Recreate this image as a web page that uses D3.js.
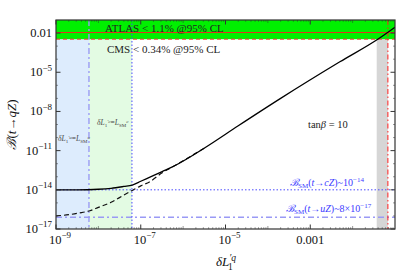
<!DOCTYPE html>
<html>
<head>
<meta charset="utf-8">
<script src="https://cdn.jsdelivr.net/npm/d3@7"></script>
<style>
  body { margin: 0; background: #fff; }
  svg text { font-family: "Liberation Serif", "Times New Roman", "DejaVu Serif", serif; }
</style>
</head>
<body>
<div id="chart"></div>
<script>
// curves (delta L vs branching ratio)
const solidX = [1e-9, 3.2e-9, 1e-8, 2e-8, 4e-8, 6.3e-8, 1e-7, 1.6e-7, 3.2e-7, 6.3e-7, 3.2e-6, 2e-5, 2e-4, 5e-3, 4e-2, 0.1];
const solidB = [1e-14, 1e-14, 1.1e-14, 1.3e-14, 1.8e-14, 2.3e-14, 4.5e-14, 9e-14, 2.5e-13, 7e-13, 1.6e-11, 8e-10, 1e-7, 6.3e-5, 3.5e-3, 2.8e-2];
const dashX = [1e-9, 2e-9, 4e-9, 6.3e-9, 1e-8, 2e-8, 4e-8, 6.3e-8, 1e-7, 1.6e-7, 3.2e-7, 6.3e-7, 3.2e-6];
const dashB = [1e-16, 1.25e-16, 1.8e-16, 2.5e-16, 4.5e-16, 1.1e-15, 4e-15, 9e-15, 2e-14, 4e-14, 2e-13, 7e-13, 1.6e-11];

// limits and regions
const atlasLimit = 0.011;
const cmsLimit = 0.0034;
const smCZ = 1e-14;
const smUZ = 8e-17;
const uRegion = [1e-9, 6e-9];
const cRegion = [6e-9, 6.2e-8];
const grayRegion = [3.7e-2, 6.8e-2];

const xTickVals = [1e-9, 1e-7, 1e-5, 1e-3];
const xTickLabels = [["10", "\u22129"], ["10", "\u22127"], ["10", "\u22125"], ["0.001", null]];
const yTickVals = [1e-17, 1e-14, 1e-11, 1e-8, 1e-5, 1e-2];
const yTickLabels = [["10", "\u221217"], ["10", "\u221214"], ["10", "\u221211"], ["10", "\u22128"], ["10", "\u22125"], ["0.01", null]];

const W = 399, H = 273;
const m = { left: 56, right: 4, top: 20, bottom: 44 };

const x = d3.scaleLog().domain([1e-9, 0.1]).range([m.left, W - m.right]);
const y = d3.scaleLog().domain([1e-17, 0.1]).range([H - m.bottom, m.top]);

const svg = d3.select("#chart").append("svg")
    .attr("width", W)
    .attr("height", H);

const x0 = x.range()[0], x1 = x.range()[1];
const y0 = y.range()[0], y1 = y.range()[1];

svg.append("defs").append("clipPath").attr("id", "clip")
  .append("rect")
    .attr("x", x0).attr("y", y1)
    .attr("width", x1 - x0).attr("height", y0 - y1);

const plot = svg.append("g").attr("clip-path", "url(#clip)");

// shaded regions
plot.append("rect")
    .attr("x", x(uRegion[0])).attr("y", y(cmsLimit))
    .attr("width", x(uRegion[1]) - x(uRegion[0]))
    .attr("height", y0 - y(cmsLimit))
    .attr("fill", "#ddecfd");
plot.append("rect")
    .attr("x", x(cRegion[0])).attr("y", y(cmsLimit))
    .attr("width", x(cRegion[1]) - x(cRegion[0]))
    .attr("height", y0 - y(cmsLimit))
    .attr("fill", "#e3fbe3");
plot.append("rect")
    .attr("x", x(grayRegion[0])).attr("y", y(cmsLimit))
    .attr("width", x(grayRegion[1]) - x(grayRegion[0]))
    .attr("height", y0 - y(cmsLimit))
    .attr("fill", "#d6d6d6");
plot.append("rect")
    .attr("x", x0).attr("y", y1)
    .attr("width", x1 - x0)
    .attr("height", y(cmsLimit) - y1)
    .attr("fill", "#00f000");

// experimental limits
plot.append("line")
    .attr("x1", x0).attr("x2", x1)
    .attr("y1", y(atlasLimit)).attr("y2", y(atlasLimit))
    .attr("stroke", "#e8301c").attr("stroke-width", 1);
plot.append("line")
    .attr("x1", x0).attr("x2", x1)
    .attr("y1", y(cmsLimit)).attr("y2", y(cmsLimit))
    .attr("stroke", "#f03a3a").attr("stroke-width", 1)
    .attr("stroke-dasharray", "4,3");

// SM reference lines
plot.append("line")
    .attr("x1", x0).attr("x2", x1)
    .attr("y1", y(smCZ)).attr("y2", y(smCZ))
    .attr("stroke", "#4a4aff").attr("stroke-width", 1)
    .attr("stroke-dasharray", "1.5,2");
plot.append("line")
    .attr("x1", x0).attr("x2", x1)
    .attr("y1", y(smUZ)).attr("y2", y(smUZ))
    .attr("stroke", "#9a9af5").attr("stroke-width", 1.4)
    .attr("stroke-dasharray", "6,3,2,3");

// vertical boundaries
plot.append("line")
    .attr("x1", x(uRegion[1])).attr("x2", x(uRegion[1]))
    .attr("y1", y1).attr("y2", y0)
    .attr("stroke", "#9a9af5").attr("stroke-width", 1.4)
    .attr("stroke-dasharray", "6,3,2,3");
plot.append("line")
    .attr("x1", x(cRegion[1])).attr("x2", x(cRegion[1]))
    .attr("y1", y1).attr("y2", y0)
    .attr("stroke", "#4a4aff").attr("stroke-width", 1)
    .attr("stroke-dasharray", "1.5,2");
plot.append("line")
    .attr("x1", x(grayRegion[1])).attr("x2", x(grayRegion[1]))
    .attr("y1", y1).attr("y2", y0)
    .attr("stroke", "#ff2020").attr("stroke-width", 1)
    .attr("stroke-dasharray", "5,2.5,1.5,2.5");

// curves
const line = d3.line()
    .x((d) => x(d[0]))
    .y((d) => y(d[1]))
    .curve(d3.curveMonotoneX);

plot.append("path")
    .datum(d3.zip(dashX, dashB))
    .attr("d", line)
    .attr("fill", "none")
    .attr("stroke", "#111")
    .attr("stroke-width", 1.2)
    .attr("stroke-dasharray", "5,3");
plot.append("path")
    .datum(d3.zip(solidX, solidB))
    .attr("d", line)
    .attr("fill", "none")
    .attr("stroke", "#000")
    .attr("stroke-width", 1.3);

// frame ticks (inside, all four sides)
const ticks = svg.append("g").attr("stroke", "#333");
const xMinor = [];
for (let e = -9; e < -1; e++) {
  for (let k = 1; k < 10; k++) {
    const v = k * Math.pow(10, e);
    if (k === 1 && xTickVals.some((t) => Math.abs(Math.log10(t) - e) < 1e-9)) continue;
    xMinor.push(v);
  }
}
xMinor.forEach((v) => {
  const len = Math.abs(Math.log10(v) % 1) < 1e-9 ? 3 : 1.8;
  ticks.append("line").attr("x1", x(v)).attr("x2", x(v)).attr("y1", y0).attr("y2", y0 - len).attr("stroke-width", 0.5);
  ticks.append("line").attr("x1", x(v)).attr("x2", x(v)).attr("y1", y1).attr("y2", y1 + len).attr("stroke-width", 0.5);
});
xTickVals.forEach((v) => {
  ticks.append("line").attr("x1", x(v)).attr("x2", x(v)).attr("y1", y0).attr("y2", y0 - 4.5).attr("stroke-width", 1);
  ticks.append("line").attr("x1", x(v)).attr("x2", x(v)).attr("y1", y1).attr("y2", y1 + 4.5).attr("stroke-width", 1);
});
for (let e = -17; e < -1; e++) {
  const v = Math.pow(10, e);
  const major = yTickVals.some((t) => Math.abs(Math.log10(t) - e) < 1e-9);
  const len = major ? 4.5 : 2;
  const sw = major ? 1 : 0.5;
  ticks.append("line").attr("x1", x0).attr("x2", x0 + len).attr("y1", y(v)).attr("y2", y(v)).attr("stroke-width", sw);
  ticks.append("line").attr("x1", x1).attr("x2", x1 - len).attr("y1", y(v)).attr("y2", y(v)).attr("stroke-width", sw);
}

// frame
svg.append("rect")
    .attr("x", x0).attr("y", y1)
    .attr("width", x1 - x0).attr("height", y0 - y1)
    .attr("fill", "none")
    .attr("stroke", "#333")
    .attr("stroke-width", 1.2);

// tick labels
function powLabel(sel, parts, fs) {
  sel.append("tspan").text(parts[0]);
  if (parts[1]) {
    sel.append("tspan").attr("dy", -fs * 0.45).attr("font-size", fs * 0.72).text(parts[1]);
  }
}
xTickVals.forEach((v, i) => {
  const t = svg.append("text")
      .attr("x", x(v) + (xTickLabels[i][1] ? 4 : 0))
      .attr("y", y0 + 15)
      .attr("text-anchor", "middle")
      .attr("font-size", 12.5)
      .attr("fill", "#111");
  powLabel(t, xTickLabels[i], 12.5);
});
yTickVals.forEach((v, i) => {
  const t = svg.append("text")
      .attr("x", x0 - 4)
      .attr("y", y(v) + 4)
      .attr("text-anchor", "end")
      .attr("font-size", 12.5)
      .attr("fill", "#111");
  powLabel(t, yTickLabels[i], 12.5);
});

// axis titles
const xt = svg.append("text")
    .attr("x", 216).attr("y", 266)
    .attr("font-size", 13).attr("fill", "#111");
xt.append("tspan").attr("font-style", "italic").text("\u03b4L");
xt.append("tspan").attr("dy", -5).attr("font-size", 9.5).attr("font-style", "italic").text("\u2032q");
xt.append("tspan").attr("dx", -8).attr("dy", 9).attr("font-size", 9.5).text("1");

const yt = svg.append("text")
    .attr("transform", "translate(16," + ((y0 + y1) / 2) + ") rotate(-90)")
    .attr("text-anchor", "middle")
    .attr("font-size", 13).attr("fill", "#111");
yt.append("tspan").attr("font-style", "italic").text("\u212c");
yt.append("tspan").text("(");
yt.append("tspan").attr("font-style", "italic").text("t");
yt.append("tspan").text("\u2192");
yt.append("tspan").attr("font-style", "italic").text("qZ");
yt.append("tspan").text(")");

// annotations
svg.append("text")
    .attr("x", 105).attr("y", 32)
    .attr("font-size", 11).attr("fill", "#222")
    .text("ATLAS < 1.1% @95% CL");
svg.append("text")
    .attr("x", 107).attr("y", 53)
    .attr("font-size", 11).attr("fill", "#222")
    .text("CMS < 0.34% @95% CL");

const tb = svg.append("text")
    .attr("x", 308).attr("y", 128)
    .attr("font-size", 10.5).attr("fill", "#222");
tb.append("tspan").text("tan");
tb.append("tspan").attr("font-style", "italic").text("\u03b2");
tb.append("tspan").text(" = 10");

function smLabel(xp, yp, q, val) {
  const t = svg.append("text")
      .attr("x", xp).attr("y", yp)
      .attr("font-size", 10).attr("fill", "#3a3aff");
  t.append("tspan").attr("font-style", "italic").text("\u212c");
  t.append("tspan").attr("dy", 2).attr("font-size", 7).text("SM");
  t.append("tspan").attr("dy", -2).text("(");
  t.append("tspan").attr("font-style", "italic").text("t");
  t.append("tspan").text("\u2192");
  t.append("tspan").attr("font-style", "italic").text(q + "Z");
  t.append("tspan").text(")~" + val[0]);
  t.append("tspan").attr("dy", -4).attr("font-size", 7).text(val[1]);
}
smLabel(290, 186, "c", ["10", "\u221214"]);
smLabel(286, 212, "u", ["8\u00d710", "\u221217"]);

function regionLabel(xp, yp, q) {
  const t = svg.append("text")
      .attr("x", xp).attr("y", yp)
      .attr("font-size", 7.5).attr("fill", "#444");
  t.append("tspan").attr("font-style", "italic").text("\u03b4L");
  t.append("tspan").attr("dy", 1.5).attr("font-size", 5).text("1");
  t.append("tspan").attr("dy", -4).attr("font-size", 5).attr("font-style", "italic").text("\u2032" + q);
  t.append("tspan").attr("dy", 2.5).text("=");
  t.append("tspan").attr("font-style", "italic").text("L");
  t.append("tspan").attr("dy", 1.5).attr("font-size", 5).text("SM");
  t.append("tspan").attr("dy", -4).attr("font-size", 5).attr("font-style", "italic").text(q);
}
regionLabel(58, 141, "u");
regionLabel(97, 125, "c");
</script>
</body>
</html>
